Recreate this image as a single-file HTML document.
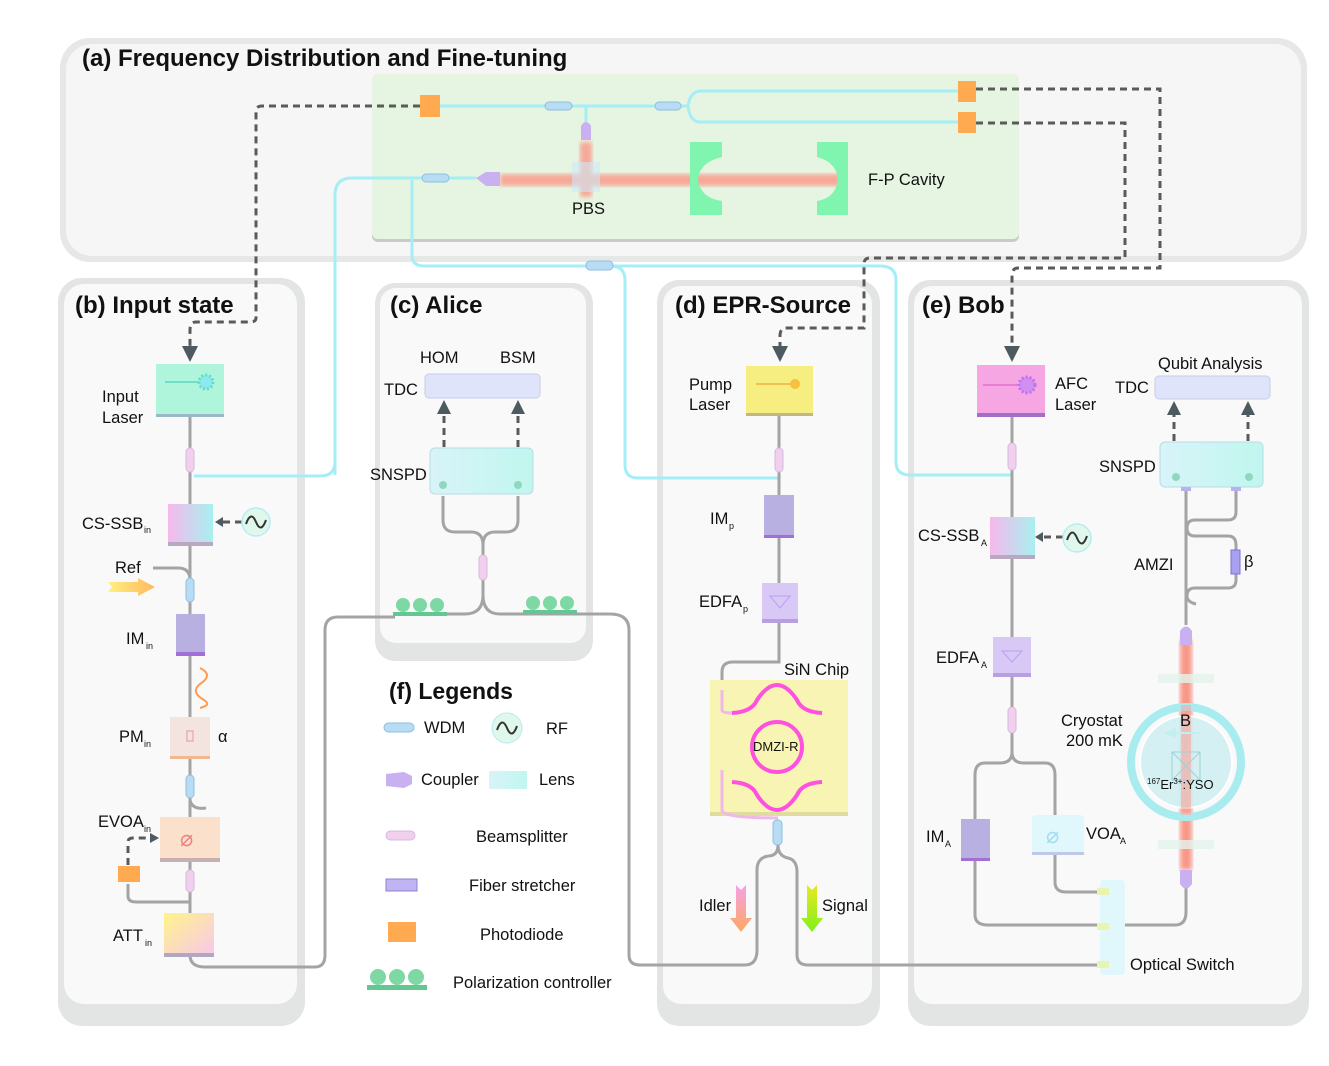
<!DOCTYPE html>
<html><head><meta charset="utf-8"><style>
html,body{margin:0;padding:0;background:#fff}
svg{display:block}
text{font-family:"Liberation Sans",sans-serif;fill:#111}
.t{font-size:16.5px}
.h{font-size:24px;font-weight:bold}
.g{fill:none;stroke:#a4a4a4;stroke-width:3}
.c{fill:none;stroke:#a6eef6;stroke-width:3}
.d{fill:none;stroke:#5a5a5a;stroke-width:3;stroke-dasharray:7 5}
</style></head><body>
<svg width="1329" height="1066" viewBox="0 0 1329 1066" xmlns="http://www.w3.org/2000/svg">
<defs>
<linearGradient id="ss" x1="0" x2="1"><stop offset="0" stop-color="#f6b8ec"/><stop offset="1" stop-color="#a8f0f0"/></linearGradient>
<linearGradient id="att" x1="0" x2="1" y1="0" y2="1"><stop offset="0" stop-color="#fff48a"/><stop offset="1" stop-color="#f8c8e8"/></linearGradient>
<linearGradient id="sn" x1="0" x2="1"><stop offset="0" stop-color="#d8f4f8"/><stop offset="1" stop-color="#c0f6ee"/></linearGradient>
<linearGradient id="idl" x1="0" x2="0" y1="0" y2="1"><stop offset="0" stop-color="#f4a0e8"/><stop offset="1" stop-color="#ffa860"/></linearGradient>
<linearGradient id="sig" x1="0" x2="0" y1="0" y2="1"><stop offset="0" stop-color="#e8e820"/><stop offset="1" stop-color="#80f020"/></linearGradient>
<linearGradient id="refg" x1="0" x2="1"><stop offset="0" stop-color="#fff080"/><stop offset="1" stop-color="#ffb860"/></linearGradient>
<filter id="bl"><feGaussianBlur stdDeviation="2.5"/></filter>
</defs>

<rect x="60" y="38" width="1247" height="224" rx="30" fill="#e6e8e7"/>
<rect x="66" y="44" width="1235" height="212" rx="26" fill="#f5f6f5"/>
<rect x="372" y="74" width="647" height="168" rx="6" fill="#c8ccc8"/>
<rect x="372" y="74" width="647" height="165" rx="6" fill="#e6f5e2"/>
<text x="82" y="66" class="h">(a) Frequency Distribution and Fine-tuning</text>

<rect x="58" y="278" width="247" height="748" rx="24" fill="#e3e5e4"/>
<rect x="64" y="284" width="233" height="720" rx="20" fill="#f8f9f8"/>
<rect x="375" y="283" width="218" height="378" rx="20" fill="#e3e5e4"/>
<rect x="380" y="288" width="206" height="355" rx="16" fill="#f8f9f8"/>
<rect x="657" y="280" width="223" height="746" rx="22" fill="#e3e5e4"/>
<rect x="663" y="286" width="209" height="718" rx="18" fill="#f8f9f8"/>
<rect x="908" y="280" width="401" height="746" rx="22" fill="#e3e5e4"/>
<rect x="914" y="286" width="388" height="718" rx="18" fill="#f8f9f8"/>
<text x="75" y="313" class="h">(b) Input state</text>
<text x="390" y="313" class="h">(c) Alice</text>
<text x="675" y="313" class="h">(d) EPR-Source</text>
<text x="922" y="313" class="h">(e) Bob</text>

<path class="c" d="M440,106 H688 M688,106 Q690,92 700,91 H960 M688,106 Q690,122 700,122 H960"/>
<path class="c" d="M586,106 V122"/>
<rect x="545" y="102" width="27" height="8" rx="4" fill="#b8dcf4" stroke="#8cbfe0"/>
<rect x="655" y="102" width="26" height="8" rx="4" fill="#b8dcf4" stroke="#8cbfe0"/>
<rect x="420" y="95" width="20" height="22" fill="#ffaa50"/>
<rect x="958" y="81" width="18" height="21" fill="#ffaa50"/>
<rect x="958" y="112" width="18" height="21" fill="#ffaa50"/>
<path d="M581,140 L581,126 Q586,118 591,126 L591,140 z" fill="#c9b0f0"/>
<rect x="580" y="142" width="12" height="55" fill="#f7a898" filter="url(#bl)"/>
<rect x="500" y="174" width="340" height="12" fill="#f7a898" filter="url(#bl)"/>
<rect x="572" y="162" width="28" height="30" fill="#cfe8f5" opacity="0.6"/>
<path d="M690,142 H722 V157 Q700,162 698,179 Q700,198 722,201 V215 H690 z" fill="#80f5b0"/>
<path d="M817,142 H848 V215 H817 V201 Q836,198 838,179 Q836,162 817,157 z" fill="#80f5b0"/>
<path d="M476,178 L486,172 H500 V186 H486 z" fill="#c9b0f0"/>
<path class="c" d="M335,475 V195 Q335,178 352,178 H476"/>
<rect x="422" y="174" width="27" height="8" rx="4" fill="#b8dcf4" stroke="#8cbfe0"/>
<path class="c" d="M412,180 V255 Q412,266 424,266 H880 Q896,266 896,280 V462 Q896,475 910,475 H1012"/>
<path class="c" d="M610,266 Q625,266 625,280 V465 Q625,478 638,478 H779"/>
<rect x="586" y="261" width="27" height="9" rx="4" fill="#b8dcf4" stroke="#8cbfe0"/>
<text x="572" y="214" class="t">PBS</text>
<text x="868" y="185" class="t">F-P Cavity</text>

<path class="d" d="M420,106 H262 Q256,106 256,112 V318 Q256,322 250,322 H196 Q190,322 190,330 V350" />
<path d="M182,346 L198,346 L190,362 z" fill="#4d5a60"/>
<path class="d" d="M976,89 H1160 V268 H1018 Q1012,268 1012,276 V348"/>
<path d="M1004,346 L1020,346 L1012,362 z" fill="#4d5a60"/>
<path class="d" d="M976,123 H1125 V258 H870 Q864,258 864,264 V328 H786 Q780,328 780,336 V348"/>
<path d="M772,346 L788,346 L780,362 z" fill="#4d5a60"/>

<path class="g" d="M190,417 V955 Q190,967 205,967 H315 Q325,967 325,955 V630 Q325,617 338,617 H395"/>
<path class="c" d="M194,476 H320 Q335,476 335,462"/>
<rect x="156" y="364" width="68" height="53" fill="#aef5dc"/>
<rect x="156" y="414" width="68" height="3" fill="#9ab8c8"/>
<line x1="165" y1="382" x2="200" y2="382" stroke="#6ee0c8" stroke-width="2"/>
<circle cx="206" cy="382" r="7" fill="#8ee8f0" stroke="#60e0c0" stroke-dasharray="2 2" stroke-width="3"/>
<text x="102" y="402" class="t">Input</text><text x="102" y="423" class="t">Laser</text>
<rect x="186" y="448" width="8" height="24" rx="4" fill="#f0d0ec" stroke="#d8b8e0"/>
<rect x="168" y="504" width="45" height="40" fill="url(#ss)"/>
<rect x="168" y="542" width="45" height="4" fill="#b8a8c0"/>
<path class="d" d="M242,522 H222" stroke-dasharray="3 2"/><path d="M223,517 L215,522 L223,527 z" fill="#4d5a60"/>
<circle cx="256" cy="522" r="14" fill="#e0f8ec" stroke="#b8ecf4" stroke-width="1.5"/>
<path d="M246,524 Q251,510 256,522 Q261,534 266,520" fill="none" stroke="#333" stroke-width="2"/>
<text x="82" y="529" class="t">CS-SSB</text><text x="144" y="533" font-size="9">in</text>
<path class="g" d="M153,568 H178 Q190,568 190,580"/>
<text x="115" y="573" class="t">Ref</text>
<path d="M108,582 H138 V578 L155,587 L138,596 V592 H108 L112,587 z" fill="url(#refg)"/>
<rect x="186" y="578" width="8" height="24" rx="4" fill="#b8dcf4" stroke="#8cbfe0"/>
<rect x="176" y="614" width="29" height="40" fill="#b8b0e0"/>
<rect x="176" y="652" width="29" height="4" fill="#a070d8"/>
<text x="126" y="644" class="t">IM</text><text x="146" y="649" font-size="9">in</text>
<path d="M200,668 Q214,675 200,684 Q190,692 204,700 Q212,705 200,708" fill="none" stroke="#ff9a50" stroke-width="2"/>
<rect x="170" y="717" width="40" height="39" fill="#f4e4e0"/>
<rect x="170" y="756" width="40" height="3" fill="#f0b890"/>
<rect x="187" y="731" width="6" height="10" fill="none" stroke="#f09090"/>
<text x="218" y="742" class="t">α</text>
<text x="119" y="742" class="t">PM</text><text x="144" y="747" font-size="9">in</text>
<rect x="186" y="775" width="8" height="23" rx="4" fill="#b8dcf4" stroke="#8cbfe0"/>
<path class="g" d="M190,800 Q192,810 206,808"/>
<rect x="160" y="817" width="60" height="41" fill="#fbe0cc"/>
<rect x="160" y="858" width="60" height="4" fill="#c8b0b0"/>
<text x="180" y="846" font-size="22" style="fill:#f08080">⌀</text>
<text x="98" y="827" class="t">EVOA</text><text x="144" y="832" font-size="9">in</text>
<rect x="118" y="866" width="22" height="16" fill="#ffaa50"/>
<path class="d" d="M128,865 V842 Q128,838 133,838 H150" stroke-dasharray="3 2" stroke-width="2"/>
<path d="M150,833 L159,838 L150,843 z" fill="#4d5a60"/>
<path class="g" d="M128,884 V896 Q128,902 136,902 H190"/>
<rect x="186" y="870" width="8" height="22" rx="4" fill="#f0d0ec" stroke="#d8b8e0"/>
<rect x="164" y="913" width="50" height="40" fill="url(#att)"/>
<rect x="164" y="953" width="50" height="4" fill="#b0a8c0"/>
<text x="113" y="941" class="t">ATT</text><text x="145" y="946" font-size="9">in</text>

<rect x="425" y="374" width="115" height="24" rx="4" fill="#e0e4fa" stroke="#c8ccf0"/>
<text x="420" y="363" class="t">HOM</text><text x="500" y="363" class="t">BSM</text>
<text x="384" y="395" class="t">TDC</text>
<path class="d" d="M444,447 V412 M518,447 V412" stroke-dasharray="5 4"/>
<path d="M437,414 L444,400 L451,414 z M511,414 L518,400 L525,414 z" fill="#4d5a60"/>
<rect x="430" y="448" width="103" height="46" rx="5" fill="url(#sn)" stroke="#b8dce8"/>
<circle cx="443" cy="485" r="4" fill="#8ed8c0"/><circle cx="518" cy="485" r="4" fill="#8ed8c0"/>
<text x="370" y="480" class="t">SNSPD</text>
<path class="g" d="M443,496 V520 Q443,532 455,532 H471 Q483,532 483,545 V556 M518,496 V520 Q518,532 506,532 H495 Q483,532 483,545"/>
<path class="g" d="M483,580 V595 Q483,614 465,614 H395 M483,595 Q483,614 500,614 H610 Q629,614 629,630 V955 Q629,965 640,965 H745 Q757,965 757,950 V870 Q757,858 768,856"/>
<rect x="479" y="555" width="8" height="25" rx="4" fill="#f0d0ec" stroke="#d8b8e0"/>
<g fill="#7ed8a4"><circle cx="403" cy="605" r="7"/><circle cx="420" cy="605" r="7"/><circle cx="437" cy="605" r="7"/>
<circle cx="533" cy="603" r="7"/><circle cx="550" cy="603" r="7"/><circle cx="567" cy="603" r="7"/></g>
<rect x="393" y="612" width="54" height="4" fill="#60c890"/><rect x="523" y="610" width="54" height="4" fill="#60c890"/>

<text x="389" y="699" class="h" font-size="23" style="font-size:23px">(f) Legends</text>
<rect x="384" y="723" width="30" height="9" rx="4.5" fill="#b8dcf4" stroke="#8cbfe0"/><text x="424" y="733" class="t">WDM</text>
<circle cx="507" cy="728" r="15" fill="#e0f8ec" stroke="#b8ecf4"/><path d="M497,730 Q502,716 507,728 Q512,740 517,726" fill="none" stroke="#333" stroke-width="2"/>
<text x="546" y="734" class="t">RF</text>
<path d="M386,774 L404,772 L412,776 V784 L404,788 L386,786 z" fill="#c9b0f0"/><text x="421" y="785" class="t">Coupler</text>
<rect x="489" y="771" width="38" height="18" fill="url(#sn)"/><text x="539" y="785" class="t">Lens</text>
<rect x="386" y="831" width="29" height="9" rx="4.5" fill="#f0d0ec" stroke="#d8b8e0"/><text x="476" y="842" class="t">Beamsplitter</text>
<rect x="386" y="879" width="31" height="12" fill="#c0b4f4" stroke="#9080d0"/><text x="469" y="891" class="t">Fiber stretcher</text>
<rect x="388" y="922" width="28" height="20" fill="#ffaa50"/><text x="480" y="940" class="t">Photodiode</text>
<g fill="#7ed8a4"><circle cx="378" cy="977" r="8"/><circle cx="397" cy="977" r="8"/><circle cx="416" cy="977" r="8"/></g>
<rect x="367" y="985" width="60" height="5" fill="#60c890"/><text x="453" y="988" class="t">Polarization controller</text>

<path class="g" d="M779,416 V662 H733 Q722,662 722,672 V690"/>
<rect x="746" y="366" width="67" height="48" fill="#f6ee80"/><rect x="746" y="413" width="67" height="3" fill="#c0b880"/>
<line x1="756" y1="384" x2="790" y2="384" stroke="#f0b040" stroke-width="1.5"/><circle cx="795" cy="384" r="5" fill="#f6c040"/>
<text x="689" y="390" class="t">Pump</text><text x="689" y="410" class="t">Laser</text>
<rect x="775" y="448" width="8" height="24" rx="4" fill="#f0d0ec" stroke="#d8b8e0"/>
<rect x="764" y="495" width="30" height="40" fill="#b8b0e0"/><rect x="764" y="535" width="30" height="3" fill="#a070d8"/>
<text x="710" y="524" class="t">IM</text><text x="729" y="529" font-size="9">p</text>
<rect x="762" y="583" width="36" height="36" fill="#d8c8f6"/><rect x="762" y="619" width="36" height="4" fill="#b8a0e0"/>
<path d="M770,596 H790 L780,608 z" fill="none" stroke="#b8a0f0"/>
<text x="699" y="607" class="t">EDFA</text><text x="743" y="612" font-size="9">p</text>
<text x="784" y="675" class="t">SiN Chip</text>
<rect x="710" y="680" width="138" height="132" fill="#f8f4b4"/><rect x="710" y="812" width="138" height="4" fill="#e0dca0"/>
<g fill="none" stroke="#ff50e0" stroke-width="4">
<circle cx="777" cy="747" r="25"/>
<path d="M732,713 Q752,712 757,700 Q777,670 797,700 Q802,712 822,713"/>
<path d="M732,782 Q752,783 757,795 Q777,825 797,795 Q802,783 822,782"/></g>
<path d="M722,690 V710 Q722,713 732,713 M722,770 V810 Q722,818 778,818" fill="none" stroke="#f0b8e8" stroke-width="3"/>
<text x="753" y="751" font-size="13">DMZI-R</text>
<rect x="773" y="820" width="9" height="25" rx="4" fill="#b8dcf4" stroke="#8cbfe0"/>
<path class="g" d="M778,845 Q778,856 788,858 Q797,860 797,872 V955 Q797,965 808,965 H1100"/>
<path class="g" d="M778,845 Q778,856 768,856"/>
<path d="M736,885 L741,890 L746,885 V918 H752 L741,932 L730,918 H736 z" fill="url(#idl)"/>
<text x="699" y="911" class="t">Idler</text>
<path d="M807,885 L812,890 L817,885 V918 H823 L812,932 L801,918 H807 z" fill="url(#sig)"/>
<text x="822" y="911" class="t">Signal</text>

<path class="g" d="M1012,417 V752 M1012,752 Q1012,763 1000,763 H985 Q975,763 975,775 V915 Q975,925 988,925 H1100 M1012,752 Q1012,763 1024,763 H1045 Q1055,763 1055,775 V882 Q1055,892 1066,892 H1100 M1125,925 H1175 Q1186,925 1186,912 V885"/>
<rect x="977" y="365" width="68" height="48" fill="#f6a6e2"/><rect x="977" y="413" width="68" height="4" fill="#a070c8"/>
<line x1="983" y1="385" x2="1020" y2="385" stroke="#e070d0" stroke-width="1.5"/>
<circle cx="1027" cy="385" r="8" fill="#d090f0" stroke="#c070f0" stroke-dasharray="2 2" stroke-width="3"/>
<text x="1055" y="389" class="t">AFC</text><text x="1055" y="410" class="t">Laser</text>
<rect x="1008" y="443" width="8" height="27" rx="4" fill="#f0d0ec" stroke="#d8b8e0"/>
<rect x="990" y="517" width="45" height="38" fill="url(#ss)"/><rect x="990" y="555" width="45" height="4" fill="#b8a8c0"/>
<path class="d" d="M1063,537 H1042" stroke-dasharray="3 2"/><path d="M1043,532 L1035,537 L1043,542 z" fill="#4d5a60"/>
<circle cx="1077" cy="538" r="14" fill="#e0f8ec" stroke="#b8ecf4" stroke-width="1.5"/>
<path d="M1067,540 Q1072,526 1077,538 Q1082,550 1087,536" fill="none" stroke="#333" stroke-width="2"/>
<text x="918" y="541" class="t">CS-SSB</text><text x="981" y="546" font-size="9">A</text>
<rect x="993" y="637" width="38" height="36" fill="#d8c8f6"/><rect x="993" y="673" width="38" height="4" fill="#b8a0e0"/>
<path d="M1002,651 H1022 L1012,662 z" fill="none" stroke="#b8a0f0"/>
<text x="936" y="663" class="t">EDFA</text><text x="981" y="668" font-size="9">A</text>
<rect x="1008" y="707" width="8" height="26" rx="4" fill="#f0d0ec" stroke="#d8b8e0"/>
<rect x="961" y="819" width="29" height="39" fill="#b8b0e0"/><rect x="961" y="858" width="29" height="3" fill="#a070d8"/>
<text x="926" y="842" class="t">IM</text><text x="945" y="847" font-size="9">A</text>
<rect x="1032" y="815" width="52" height="38" rx="4" fill="#e0f8fc"/><rect x="1032" y="852" width="52" height="3" fill="#c0c8e8"/>
<text x="1046" y="843" font-size="22" style="fill:#a0dcf4">⌀</text>
<text x="1086" y="839" class="t">VOA</text><text x="1120" y="844" font-size="9">A</text>
<rect x="1100" y="880" width="25" height="95" rx="4" fill="#e0f8fc"/>
<rect x="1097" y="888" width="12" height="7" fill="#e8f4b0"/><rect x="1097" y="923" width="12" height="7" fill="#e8f4b0"/><rect x="1097" y="961" width="12" height="7" fill="#e8f4b0"/>
<text x="1130" y="970" class="t">Optical Switch</text>
<rect x="1180" y="640" width="12" height="230" fill="#f89888" filter="url(#bl)"/>
<rect x="1158" y="674" width="56" height="9" fill="#e4f4ec" opacity="0.8"/>
<rect x="1158" y="840" width="56" height="9" fill="#e4f4ec" opacity="0.8"/>
<circle cx="1186" cy="762" r="55" fill="none" stroke="#a8ecf0" stroke-width="8"/>
<circle cx="1186" cy="762" r="46" fill="#cfeff2" opacity="0.85" stroke="#fff" stroke-width="2"/>
<rect x="1181" y="705" width="10" height="110" fill="#f8a8a0" opacity="0.6"/>
<path d="M1200,732 H1176 V728 L1164,733 L1176,738 V734 H1200 z" fill="#c0f0f0"/>
<path d="M1172,752 H1200 V780 H1172 z M1172,752 L1200,780 M1200,752 L1172,780" fill="none" stroke="#a0d0d8"/>
<text x="1180" y="726" class="t">B</text>
<text x="1147" y="789" font-size="13"><tspan font-size="8" dy="-5">167</tspan><tspan dy="5">Er</tspan><tspan font-size="8" dy="-5">3+</tspan><tspan dy="5">:YSO</tspan></text>
<text x="1061" y="726" class="t">Cryostat</text><text x="1066" y="746" class="t">200 mK</text>
<path d="M1180,645 V631 Q1186,622 1192,631 V645 z" fill="#c9b0f0"/>
<path d="M1180,870 V884 Q1186,893 1192,884 V870 z" fill="#c9b0f0"/>
<rect x="1155" y="376" width="115" height="23" rx="4" fill="#e0e4fa" stroke="#c8ccf0"/>
<text x="1158" y="369" class="t">Qubit Analysis</text><text x="1115" y="393" class="t">TDC</text>
<path class="d" d="M1174,441 V413 M1248,441 V413" stroke-dasharray="5 4"/>
<path d="M1167,415 L1174,401 L1181,415 z M1241,415 L1248,401 L1255,415 z" fill="#4d5a60"/>
<rect x="1160" y="442" width="103" height="45" rx="5" fill="url(#sn)" stroke="#b8dce8"/>
<circle cx="1176" cy="477" r="4" fill="#8ed8c0"/><circle cx="1249" cy="477" r="4" fill="#8ed8c0"/>
<text x="1099" y="472" class="t">SNSPD</text>
<rect x="1181" y="487" width="10" height="4" fill="#b8b0f0"/><rect x="1231" y="487" width="10" height="4" fill="#b8b0f0"/>
<path class="g" d="M1186,491 V625 M1236,491 V512 Q1236,520 1228,520 H1195 Q1187,520 1187,528 Q1187,536 1195,536 H1228 Q1236,536 1236,545 V580 Q1236,588 1228,588 H1195 Q1187,588 1187,596 Q1187,602 1196,604"/>
<rect x="1231" y="550" width="9" height="24" fill="#a8a0f0" stroke="#8070d0"/>
<text x="1244" y="567" class="t">β</text>
<text x="1134" y="570" class="t">AMZI</text>
</svg>
</body></html>
